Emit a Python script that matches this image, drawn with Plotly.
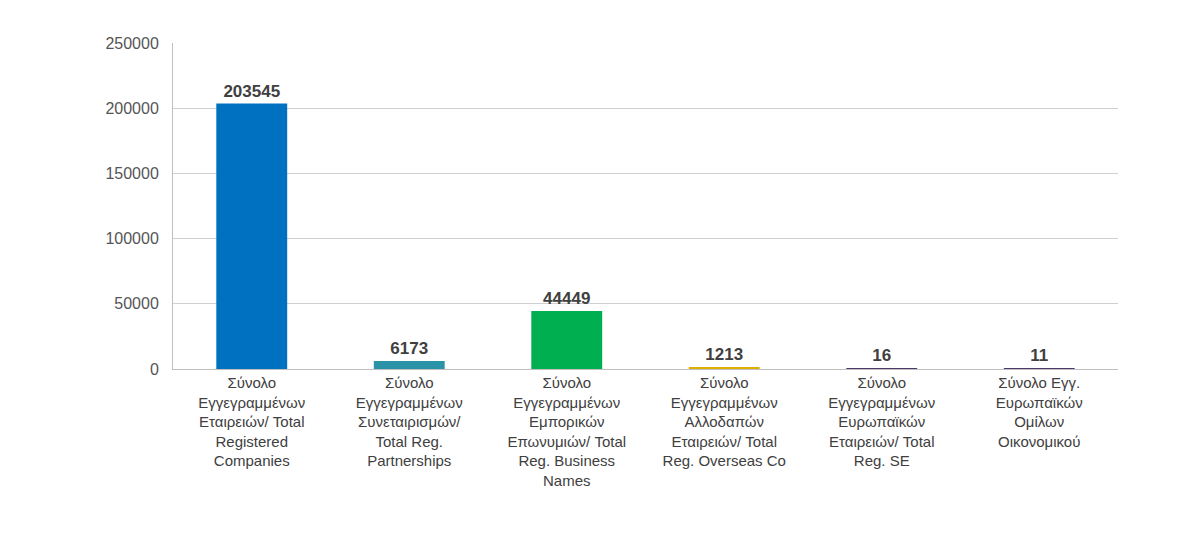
import plotly.graph_objects as go

categories = [
    "Σύνολο<br>Εγγεγραμμένων<br>Εταιρειών/ Total<br>Registered<br>Companies",
    "Σύνολο<br>Εγγεγραμμένων<br>Συνεταιρισμών/<br>Total Reg.<br>Partnerships",
    "Σύνολο<br>Εγγεγραμμένων<br>Εμπορικών<br>Επωνυμιών/ Total<br>Reg. Business<br>Names",
    "Σύνολο<br>Εγγεγραμμένων<br>Αλλοδαπών<br>Εταιρειών/ Total<br>Reg. Overseas Co",
    "Σύνολο<br>Εγγεγραμμένων<br>Ευρωπαϊκών<br>Εταιρειών/ Total<br>Reg. SE",
    "Σύνολο Εγγ.<br>Ευρωπαϊκών<br>Ομίλων<br>Οικονομικού",
]
values = [203545, 6173, 44449, 1213, 16, 11]
colors = ["#0070C0", "#2A93A8", "#00B050", "#E0B000", "#4B3A6B", "#4B3A6B"]

fig = go.Figure(go.Bar(
    x=categories, y=values, marker=dict(color=colors, line=dict(width=0)),
    text=[str(v) for v in values], textposition="outside",
    textfont=dict(family="Liberation Sans, Arial", size=17, color="#404040"),
    texttemplate="<b>%{text}</b>", width=0.45, cliponaxis=False,
))
fig.update_layout(
    width=1200, height=536, paper_bgcolor="white", plot_bgcolor="white",
    margin=dict(l=165, r=90, t=35, b=175),
    font=dict(family="Liberation Sans, Arial", size=15, color="#404040"),
    showlegend=False,
    yaxis=dict(range=[0, 250000], dtick=50000, tickformat="d", gridcolor="#D0D0D0",
               tickfont=dict(size=16, color="#555"), zeroline=False,
               showline=True, linecolor="#BFBFBF", ticks="", ticklabelstandoff=10),
    xaxis=dict(tickangle=0, tickfont=dict(size=15, color="#404040"),
               showline=True, linecolor="#BFBFBF"),
)
fig.write_html("out.html")
